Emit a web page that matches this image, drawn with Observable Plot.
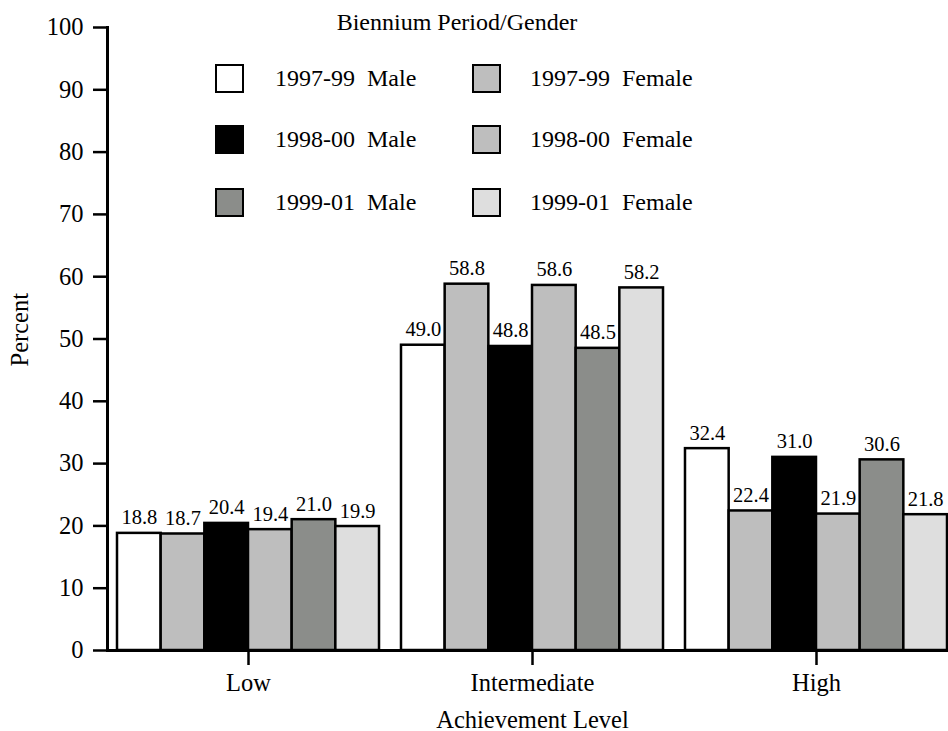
<!DOCTYPE html>
<html>
<head>
<meta charset="utf-8">
<script src="https://cdn.jsdelivr.net/npm/d3@7"></script>
<script src="https://cdn.jsdelivr.net/npm/@observablehq/plot@0.6"></script>
<style>
  html, body { margin: 0; padding: 0; background: #fff; }
  #wrap { position: relative; width: 948px; height: 731px; overflow: hidden; font-family: "Liberation Serif", "Times New Roman", serif; color: #000; }
  #wrap svg { display: block; }
  #legend { position: absolute; left: 0; top: 0; width: 948px; height: 230px; pointer-events: none; }
  .ltitle { position: absolute; top: 9px; left: 0; width: 914px; text-align: center; font-size: 24px; line-height: 26px; }
  .litem { position: absolute; height: 29px; display: flex; align-items: center; font-size: 24px; white-space: pre; word-spacing: 6px; }
  .sw { box-sizing: border-box; width: 29px; height: 29px; border: 2.5px solid #000; flex: none; }
</style>
</head>
<body>
<div id="wrap"><div id="legend"></div></div>
<script>
const levels = ["Low", "Intermediate", "High"];
const series = ["1997-99 Male", "1997-99 Female", "1998-00 Male", "1998-00 Female", "1999-01 Male", "1999-01 Female"];
const lowValues = [18.8, 18.7, 20.4, 19.4, 21.0, 19.9];
const intermediateValues = [49.0, 58.8, 48.8, 58.6, 48.5, 58.2];
const highValues = [32.4, 22.4, 31.0, 21.9, 30.6, 21.8];
const seriesColors = ["#ffffff", "#bebebe", "#000000", "#bebebe", "#8b8d8a", "#dedede"];
const yTicks = [0, 10, 20, 30, 40, 50, 60, 70, 80, 90, 100];
const legendTitle = "Biennium Period/Gender";
const xTitle = "Achievement Level";
const yTitle = "Percent";

const valuesByLevel = [lowValues, intermediateValues, highValues];
const data = levels.flatMap((level, i) =>
  series.map((s, j) => ({level, series: s, value: valuesByLevel[i][j]}))
);

const chart = Plot.plot({
  width: 948,
  height: 731,
  marginTop: 27,
  marginBottom: 81,
  marginLeft: 107,
  marginRight: -9,
  style: {fontFamily: "Liberation Serif, Times New Roman, serif", color: "#000", background: "transparent", fontSize: "24px", overflow: "hidden"},
  fx: {domain: levels, paddingInner: 0.007, paddingOuter: 0, round: false},
  x: {domain: series, padding: 0, axis: null, round: false, insetLeft: 10, insetRight: 10},
  y: {domain: [0, 100]},
  color: {domain: series, range: seriesColors},
  marks: [
    Plot.barY(data, {fx: "level", x: "series", y: "value", fill: "series", stroke: "#000", strokeWidth: 2.5}),
    Plot.text(data, {fx: "level", x: "series", y: "value", text: d => d.value.toFixed(1), lineAnchor: "bottom", dy: -9, fontSize: 20.5, fill: "#000"}),
    Plot.axisY({ticks: yTicks, tickFormat: d => String(d), tickSize: 14, tickPadding: 10, strokeWidth: 2.5, fontSize: 24.5, label: null}),
    Plot.text([{level: levels[0], label: yTitle}], {fx: "level", text: "label", frameAnchor: "left", rotate: -90, dx: -87.5, dy: 27.5, fontSize: 24.5, fill: "#000"}),
    Plot.axisFx({anchor: "bottom", tickSize: 15, tickPadding: 8, strokeWidth: 2.5, fontSize: 24.5,
      label: xTitle, labelAnchor: "center", labelOffset: 77, labelArrow: "none"}),
    Plot.frame({anchor: "left", facet: "super", strokeWidth: 3, stroke: "#000"}),
    Plot.frame({anchor: "bottom", facet: "super", strokeWidth: 3, stroke: "#000"})
  ]
});
document.getElementById("wrap").prepend(chart);

// Legend (HTML overlay, built from the series / colour arrays)
const legend = document.getElementById("legend");
const t = document.createElement("div");
t.className = "ltitle";
t.textContent = legendTitle;
legend.appendChild(t);
const colSwatchX = [215, 472];
const colGap = [31, 29];
const rowTops = [64, 125, 188];
series.forEach((s, i) => {
  const col = i % 2, row = Math.floor(i / 2);
  const item = document.createElement("div");
  item.className = "litem";
  item.style.left = colSwatchX[col] + "px";
  item.style.top = rowTops[row] + "px";
  const sw = document.createElement("div");
  sw.className = "sw";
  sw.style.background = seriesColors[i];
  sw.style.marginRight = colGap[col] + "px";
  const lab = document.createElement("span");
  lab.textContent = s;
  item.appendChild(sw);
  item.appendChild(lab);
  legend.appendChild(item);
});
</script>
</body>
</html>
